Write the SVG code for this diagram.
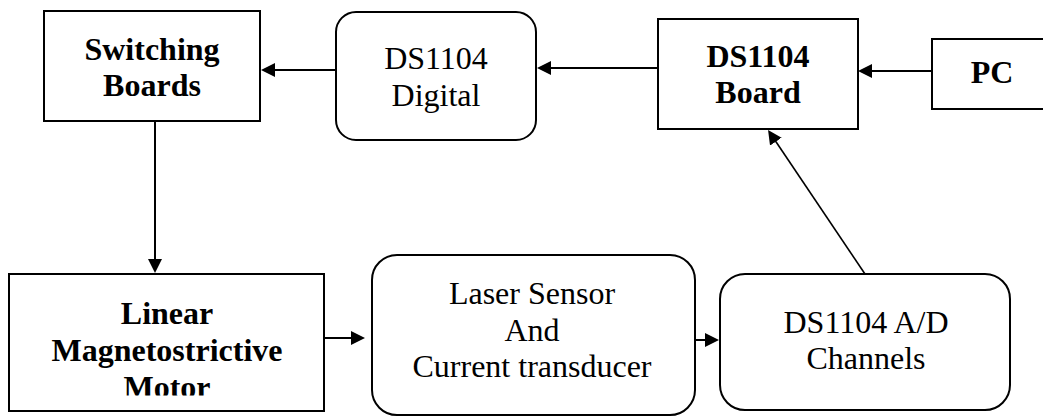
<svg xmlns="http://www.w3.org/2000/svg" width="1043" height="417" viewBox="0 0 1043 417">
<style>
.box{fill:#fff;stroke:#000;stroke-width:2}
.t{font-family:'Liberation Serif','Times New Roman',Times,'DejaVu Serif',serif;font-size:32px;text-anchor:middle;fill:#000}
.b{font-weight:bold}
.c{stroke:#000;stroke-width:2;fill:none;marker-end:url(#ah)}
</style>
<defs>
<marker id="ah" viewBox="0 0 14 14" markerWidth="14" markerHeight="14" markerUnits="userSpaceOnUse" refX="1" refY="7" orient="auto">
<path d="M0,0 L14,7 L0,14 z" fill="#000"/>
</marker>
<clipPath id="motorclip"><rect x="9" y="274" width="315" height="121.5"/></clipPath>
</defs>
<rect width="1043" height="417" fill="#fff"/>
<g id="connectors">
<line class="c" x1="336" y1="70" x2="274" y2="70"/>
<line class="c" x1="658" y1="68" x2="550" y2="68"/>
<line class="c" x1="932" y1="71" x2="871" y2="71"/>
<line class="c" x1="155" y1="122" x2="155" y2="260"/>
<line class="c" x1="324" y1="338" x2="352" y2="338"/>
<line class="c" x1="695" y1="340" x2="706" y2="340"/>
<line class="c" x1="865" y1="274" x2="775.3" y2="140.8" style="stroke-width:1.6"/>
</g>
<g id="switching">
<rect class="box" x="44" y="11" width="216" height="110"/>
<text class="t b" x="152" y="60">Switching</text>
<text class="t b" x="152" y="96">Boards</text>
</g>
<g id="digital">
<rect class="box" x="336" y="12" width="200" height="128" rx="20"/>
<text class="t" x="436" y="69">DS1104</text>
<text class="t" x="436" y="106">Digital</text>
</g>
<g id="board">
<rect class="box" x="658" y="19" width="200" height="110"/>
<text class="t b" x="758" y="67">DS1104</text>
<text class="t b" x="758" y="103">Board</text>
</g>
<g id="pc">
<rect class="box" x="932" y="39" width="130" height="70"/>
<text class="t b" x="992" y="83">PC</text>
</g>
<g id="motor">
<rect class="box" x="9" y="274" width="315" height="137"/>
<g clip-path="url(#motorclip)">
<text class="t b" x="167" y="324">Linear</text>
<text class="t b" x="167" y="360.5">Magnetostrictive</text>
<text class="t b" x="167" y="398">Motor</text>
</g>
</g>
<g id="laser">
<rect class="box" x="372" y="255" width="323" height="160" rx="25"/>
<text class="t" x="532" y="304">Laser Sensor</text>
<text class="t" x="532" y="341">And</text>
<text class="t" x="532" y="377">Current transducer</text>
</g>
<g id="ad">
<rect class="box" x="720" y="274" width="290" height="136" rx="25"/>
<text class="t" x="866" y="333">DS1104 A/D</text>
<text class="t" x="866" y="369">Channels</text>
</g>
</svg>
